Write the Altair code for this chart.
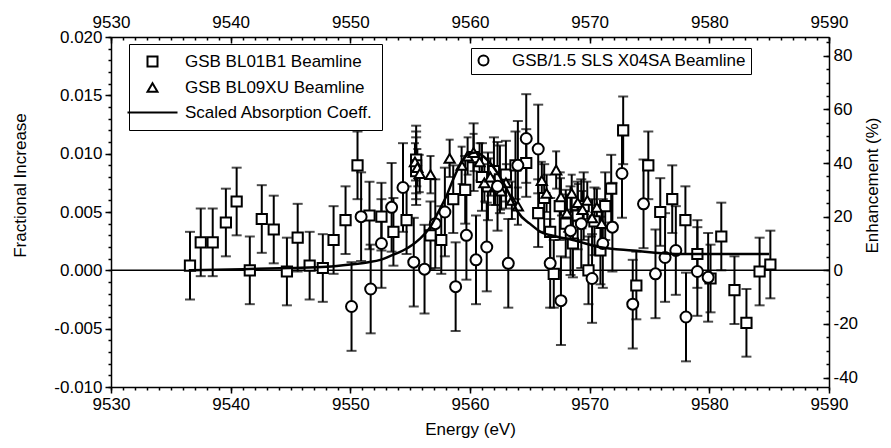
import altair as alt
import pandas as pd

# ---------------- data ----------------
sq_E = [9536.6, 9537.5, 9538.5, 9539.6, 9540.5, 9541.6, 9542.6, 9543.6, 9544.7, 9545.6,
        9546.6, 9547.7, 9548.6, 9549.6, 9550.6, 9551.6, 9552.6, 9553.6, 9554.7, 9555.5,
        9555.5, 9555.5, 9556.7, 9557.6, 9558.6, 9559.6, 9560.3, 9561.0, 9561.5, 9562.0,
        9562.5, 9563.0, 9563.8, 9564.7, 9565.7, 9566.2, 9566.7, 9567.0, 9567.5, 9568.0,
        9568.6, 9569.0, 9569.5, 9569.9, 9570.4, 9570.9, 9571.3, 9571.8, 9572.8, 9573.9,
        9574.9, 9575.9, 9576.9, 9578.0, 9579.0, 9580.1, 9581.0, 9582.1, 9583.1, 9584.2,
        9585.1]
sq_F = [0.0004, 0.0024, 0.0024, 0.0041, 0.0059, 0.0000, 0.0044, 0.0035, -0.0001, 0.0028,
        0.0004, 0.0002, 0.0026, 0.0043, 0.0090, 0.0047, 0.0046, 0.0033, 0.0043, 0.0095,
        0.0090, 0.0085, 0.0030, 0.0026, 0.0061, 0.0069, 0.0097, 0.0080, 0.0072, 0.0085,
        0.0078, 0.0082, 0.0090, 0.0092, 0.0049, 0.0062, 0.0033, -0.0003, 0.0055, 0.0040,
        0.0023, 0.0047, 0.0055, 0.0000, 0.0042, 0.0017, 0.0055, 0.0070, 0.0120, -0.0013,
        0.0090, 0.0050, 0.0061, 0.0043, 0.0014, -0.0007, 0.0029, -0.0017, -0.0045, -0.0001,
        0.0005]
sq_err = 0.0029

tr_E = [9555.4, 9555.6, 9555.8, 9556.7, 9558.3, 9559.3, 9559.8, 9560.3, 9560.8, 9561.2,
        9561.7, 9562.1, 9562.6, 9563.0, 9563.5, 9564.0, 9566.0, 9566.4, 9567.2, 9567.6,
        9568.1, 9568.5, 9569.0, 9569.4, 9569.8, 9570.2, 9570.6, 9571.0]
tr_F = [0.0093, 0.0088, 0.0083, 0.0082, 0.0096, 0.0090, 0.0098, 0.0101, 0.0093, 0.0075,
        0.0080, 0.0072, 0.0068, 0.0075, 0.0060, 0.0055, 0.0077, 0.0066, 0.0086, 0.0063,
        0.0049, 0.0066, 0.0058, 0.0052, 0.0060, 0.0045, 0.0054, 0.0040]
tr_err = 0.0016

ci_E = [9550.1, 9550.9, 9551.7, 9552.6, 9553.45, 9554.4, 9555.3, 9556.2, 9557.1, 9557.9,
        9558.8, 9559.7, 9560.5, 9561.4, 9562.3, 9563.2, 9564.0, 9564.7, 9565.7, 9566.7,
        9567.6, 9568.4, 9569.3, 9570.2, 9571.1, 9571.9, 9572.7, 9573.6, 9574.5, 9575.5,
        9576.3, 9577.2, 9578.05, 9579.0, 9579.9]
ci_F = [-0.0031, 0.0046, -0.0016, 0.0023, 0.0054, 0.0071, 0.0007, 0.0001, 0.0040, 0.0050,
        -0.0014, 0.0030, 0.0009, 0.0020, 0.0072, 0.0006, 0.0090, 0.0113, 0.0104, 0.0006,
        -0.0026, 0.0034, 0.0040, -0.0007, 0.0023, 0.0037, 0.0083, -0.0029, 0.0057, -0.0003,
        0.0011, 0.0017, -0.0040, -0.0001, -0.0006]
ci_err = 0.0038

ab_E = [9536.5, 9541.0, 9545.0, 9548.0, 9550.0, 9551.5, 9552.5, 9553.5, 9554.4, 9555.2,
        9555.8, 9556.6, 9557.3, 9558.0, 9558.6, 9559.2, 9559.8, 9560.5, 9561.2, 9562.0,
        9562.8, 9563.4, 9564.0, 9565.0, 9565.9, 9567.2, 9568.6, 9570.8, 9573.6, 9577.8,
        9582.0, 9585.0]
ab_F = [0.0000, 0.0001, 0.0002, 0.0003, 0.0005, 0.0007, 0.0009, 0.0013, 0.0017, 0.0022,
        0.0027, 0.0036, 0.0049, 0.0063, 0.0078, 0.0091, 0.0099, 0.0101, 0.0097, 0.0088,
        0.0075, 0.0063, 0.0050, 0.0040, 0.0033, 0.0029, 0.0026, 0.0020, 0.0017, 0.0014,
        0.0014, 0.0014]

S_SQ = "GSB BL01B1 Beamline"
S_TR = "GSB BL09XU Beamline"
S_AB = "Scaled Absorption Coeff."
S_CI = "GSB/1.5 SLS X04SA Beamline"

X_MAJOR = [9530, 9540, 9550, 9560, 9570, 9580, 9590]
X_MINOR = list(range(9530, 9591))
Y_MAJOR = [-0.010, -0.005, 0.0, 0.005, 0.010, 0.015, 0.020]
Y_MINOR = [round(-0.010 + 0.001 * i, 3) for i in range(31)]
P_MAJOR = [-40, -20, 0, 20, 40, 60, 80]
P_MINOR = list(range(-40, 86, 5))

# ---------------- layout / style ----------------
W, H = 718, 350
FONT = "Liberation Sans"
XDOM = [9530, 9590]
YDOM = [-0.010, 0.020]
PDOM = [-43.5, 87.0]
MINUS_FIX = "replace(format(datum.value, '{}'), '\u2212', '-')"


def xenc(field="E", axis=None):
    return alt.X(f"{field}:Q", scale=alt.Scale(domain=XDOM, nice=False, zero=False), axis=axis)


def yenc(field="F", axis=None, dom=YDOM):
    return alt.Y(f"{field}:Q", scale=alt.Scale(domain=dom, nice=False, zero=False), axis=axis)


def frame(E, F, err, series):
    d = pd.DataFrame({"E": E, "F": F})
    d["lo"] = d["F"] - err
    d["hi"] = d["F"] + err
    d["series"] = series
    return d


sq = frame(sq_E, sq_F, sq_err, S_SQ)
tr = frame(tr_E, tr_F, tr_err, S_TR)
ci = frame(ci_E, ci_F, ci_err, S_CI)
ab = pd.DataFrame({"E": ab_E, "F": ab_F})


def errbars(df, cap):
    rules = alt.Chart(df).mark_rule(color="black", strokeWidth=2).encode(
        x=xenc(), y=yenc("lo"), y2="hi:Q")
    caps = alt.Chart(df).transform_fold(["lo", "hi"], as_=["k", "v"]).mark_tick(
        orient="horizontal", size=cap, thickness=2, color="black").encode(
        x=xenc(), y=yenc("v"))
    return [rules, caps]


LEG = dict(orient="none", title=None, strokeColor="black", labelFont=FONT,
           labelFontSize=17, labelColor="black", labelLimit=500, symbolStrokeWidth=2)

pts = pd.concat([sq, tr], ignore_index=True)
points_sq_tr = alt.Chart(pts).mark_point(
    filled=False, color="black", fill="white", strokeWidth=2, size=105, opacity=1).encode(
    x=xenc(), y=yenc(),
    shape=alt.Shape("series:N",
                    scale=alt.Scale(domain=[S_SQ, S_TR, S_AB],
                                    range=["square", "triangle-up", "M-5,0H5"]),
                    legend=alt.Legend(legendX=18, legendY=7, padding=9, symbolOffset=6,
                                      labelOffset=24, rowPadding=7, **LEG)))

points_ci = alt.Chart(ci).mark_point(
    filled=False, color="black", fill="white", strokeWidth=2, size=121, opacity=1).encode(
    x=xenc(), y=yenc(),
    shape=alt.Shape("series:N", scale=alt.Scale(domain=[S_CI], range=["circle"]),
                    legend=alt.Legend(legendX=360, legendY=11, padding=4, labelOffset=20,
                                      **LEG)))

line_ab = alt.Chart(ab).mark_line(color="black", strokeWidth=2.5, interpolate="monotone").encode(
    x=xenc(), y=yenc())

# ---------------- axes ----------------
AX = dict(labelFont=FONT, labelFontSize=17, labelColor="black", titleFont=FONT,
          titleFontSize=17, titleFontWeight="normal", titleColor="black",
          domainColor="black", domainWidth=1.5, tickColor="black", tickWidth=1.5, grid=False)

ax_df = pd.DataFrame({"E": [9530.0], "F": [0.0], "P": [0.0]})


def ax_layer(xa=None, ya=None, percent=False):
    yf = "P" if percent else "F"
    dom = PDOM if percent else YDOM
    return alt.Chart(ax_df).mark_point(opacity=0).encode(x=xenc("E", xa), y=yenc(yf, ya, dom))


ax_bottom = alt.Axis(orient="bottom", values=X_MAJOR, format="d", tickSize=6, labelPadding=3,
                     labelFlush=False, title="Energy (eV)", titlePadding=9, **AX)
ax_bottom_minor = alt.Axis(orient="bottom", values=X_MINOR, labels=False, tickSize=3,
                           domain=False, title=None, **AX)
ax_top = alt.Axis(orient="top", values=X_MAJOR, format="d", ticks=False, labelPadding=6,
                  labelFlush=False, title=None, **AX)
ax_top_in = alt.Axis(orient="bottom", offset=-H, values=X_MAJOR, labels=False, tickSize=6,
                     domain=False, title=None, **AX)
ax_top_in_minor = alt.Axis(orient="bottom", offset=-H, values=X_MINOR, labels=False,
                           tickSize=3, domain=False, title=None, **AX)
ax_left = alt.Axis(orient="left", values=Y_MAJOR, labelExpr=MINUS_FIX.format(".3f"),
                   tickSize=6, labelPadding=3, title="Fractional Increase", titlePadding=24,
                   titleY=148, **AX)
ax_left_minor = alt.Axis(orient="left", values=Y_MINOR, labels=False, tickSize=3,
                         domain=False, title=None, **AX)
ax_right = alt.Axis(orient="right", values=P_MAJOR, labelExpr=MINUS_FIX.format("d"),
                    ticks=False, labelPadding=4, title="Enhancement (%)", titleAngle=270,
                    titlePadding=24, titleY=148, **AX)
ax_right_in = alt.Axis(orient="left", offset=-W, values=P_MAJOR, labels=False, tickSize=6,
                       domain=False, title=None, **AX)
ax_right_in_minor = alt.Axis(orient="left", offset=-W, values=P_MINOR, labels=False,
                             tickSize=3, domain=False, title=None, **AX)

zero_line = alt.Chart(ax_df).mark_rule(color="black", strokeWidth=1.5).encode(
    y=yenc("P", ax_right, PDOM))

layers = (
    [zero_line]
    + errbars(sq, 10) + errbars(tr, 8) + errbars(ci, 10)
    + [points_sq_tr, points_ci, line_ab]
    + [ax_layer(xa=ax_bottom, ya=ax_left),
       ax_layer(xa=ax_bottom_minor, ya=ax_left_minor),
       ax_layer(xa=ax_top),
       ax_layer(xa=ax_top_in),
       ax_layer(xa=ax_top_in_minor),
       ax_layer(ya=ax_right_in, percent=True),
       ax_layer(ya=ax_right_in_minor, percent=True)]
)

chart = alt.layer(*layers).resolve_scale(
    x="independent", y="independent", shape="independent"
).properties(
    width=W, height=H,
    autosize=alt.AutoSizeParams(type="none"),
    padding={"left": 103, "top": 29, "right": 54, "bottom": 53},
).configure(font=FONT).configure_view(stroke=None)

chart.save("out.html", embed_options={"renderer": "svg", "actions": False})
